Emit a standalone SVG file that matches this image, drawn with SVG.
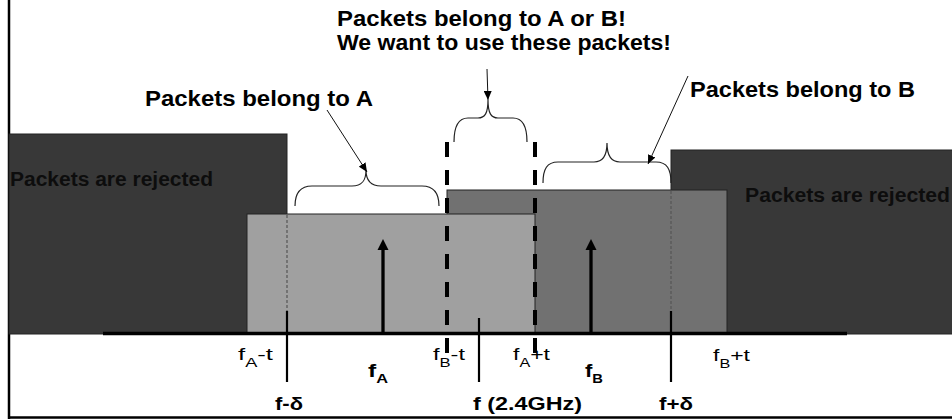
<svg xmlns="http://www.w3.org/2000/svg" width="952" height="419" viewBox="0 0 952 419">
  <style>
    .band { stroke: #222; stroke-width: 1; }
    .dark { fill: #383838; }
    .bandA { fill: #a0a0a0; }
    .bandB { fill: #717171; }
    .hidden-edge { stroke: #555; stroke-width: 1.2; stroke-dasharray: 3 2; fill: none; }
    .threshold { stroke: #000; stroke-width: 4; stroke-dasharray: 15 13; fill: none; }
    .tick { stroke: #000; stroke-width: 2.2; }
    .brace { fill: none; stroke: #222; stroke-width: 1.2; }
    .pointer { fill: none; stroke: #111; stroke-width: 1; marker-end: url(#head); }
    .title { font-family: "Liberation Sans", Arial, sans-serif; font-weight: bold; font-size: 22px; fill: #000; }
    .reject { font-family: "Liberation Sans", Arial, sans-serif; font-weight: bold; font-size: 20px; fill: #0d0d0d; }
    .lbl { font-family: "Liberation Sans", Arial, sans-serif; font-size: 17px; fill: #000; }
    .lblb { font-family: "Liberation Sans", Arial, sans-serif; font-weight: bold; font-size: 18px; fill: #000; }
    .sub { font-size: 12px; }
  </style>
  <defs>
    <marker id="head" markerUnits="userSpaceOnUse" markerWidth="9" markerHeight="8" refX="9" refY="4" orient="auto">
      <path d="M0,0 L9,4 L0,8 z" fill="#000"/>
    </marker>
  </defs>

  <rect width="952" height="419" fill="#fff"/>

  <!-- frame -->
  <g id="frame" stroke="#000" stroke-width="2.5">
    <line x1="9" y1="0" x2="9" y2="419"/>
    <line x1="8" y1="417.5" x2="952" y2="417.5"/>
  </g>

  <!-- rejection zones and channel bands -->
  <g id="reject-left">
    <rect class="band dark" x="9" y="134" width="278" height="200"/>
  </g>
  <g id="reject-right">
    <rect class="band dark" x="671" y="150" width="282" height="184"/>
  </g>
  <g id="band-B">
    <rect class="band bandB" x="447" y="190" width="280" height="144"/>
  </g>
  <g id="band-A">
    <rect class="band bandA" x="247" y="214" width="288" height="120"/>
  </g>

  <!-- hidden edges of the rejection zones -->
  <g id="hidden-edges">
    <line class="hidden-edge" x1="287" y1="215" x2="287" y2="311"/>
    <line class="hidden-edge" x1="671" y1="191" x2="671" y2="311"/>
  </g>

  <!-- channel centre carriers -->
  <g id="carrier-A">
    <line x1="383" y1="334" x2="383" y2="248" stroke="#000" stroke-width="3.3"/>
    <polygon points="383,239 377.5,250 388.5,250" fill="#000"/>
  </g>
  <g id="carrier-B">
    <line x1="591" y1="334" x2="591" y2="248" stroke="#000" stroke-width="3.3"/>
    <polygon points="591,239 585.5,250 596.5,250" fill="#000"/>
  </g>

  <!-- thresholds fB-t and fA+t -->
  <g id="thresholds">
    <line class="threshold" x1="447" y1="142" x2="447" y2="353"/>
    <line class="threshold" x1="535" y1="142" x2="535" y2="353"/>
  </g>

  <!-- frequency axis and ticks -->
  <g id="axis">
    <line x1="103" y1="333.5" x2="847" y2="333.5" stroke="#000" stroke-width="3.5"/>
    <line class="tick" x1="287" y1="311" x2="287" y2="382"/>
    <line class="tick" x1="479" y1="318" x2="479" y2="382"/>
    <line class="tick" x1="671" y1="311" x2="671" y2="382"/>
  </g>

  <!-- braces over the packet ranges -->
  <g id="braces">
    <path class="brace" d="M295,206 C295,193 300,186 312,186 L352,186 C362,186 366,181 366,170 C366,181 371,186 381,186 L422,186 C434,186 439,193 439,206"/>
    <path class="brace" d="M454,142 C454,126 458,118 468,118 L478,118 C485,118 488,113 488,100 C488,113 491,118 498,118 L513,118 C523,118 527,126 527,142"/>
    <path class="brace" d="M543,183 C543,169 547,162 558,162 L594,162 C603,162 607,156 607,143 C607,156 611,162 620,162 L656,162 C667,162 671,169 671,183"/>
  </g>

  <!-- pointers from the captions -->
  <g id="connectors">
    <line class="pointer" x1="327" y1="110" x2="367" y2="172"/>
    <line class="pointer" x1="487" y1="69" x2="488" y2="100"/>
    <line class="pointer" x1="688" y1="76" x2="648" y2="164"/>
  </g>

  <!-- captions -->
  <g id="caption-AB">
    <text class="title" x="337" y="26" textLength="289" lengthAdjust="spacingAndGlyphs">Packets belong to A or B!</text>
    <text class="title" x="337" y="50" textLength="334" lengthAdjust="spacingAndGlyphs">We want to use these packets!</text>
  </g>
  <g id="caption-A">
    <text class="title" x="145" y="106" textLength="228" lengthAdjust="spacingAndGlyphs">Packets belong to A</text>
  </g>
  <g id="caption-B">
    <text class="title" x="690" y="97" textLength="225" lengthAdjust="spacingAndGlyphs">Packets belong to B</text>
  </g>
  <g id="caption-reject">
    <text class="reject" x="10" y="186" textLength="203" lengthAdjust="spacingAndGlyphs">Packets are rejected</text>
    <text class="reject" x="745" y="201.5" textLength="205" lengthAdjust="spacingAndGlyphs">Packets are rejected</text>
  </g>

  <!-- axis labels -->
  <g id="axis-labels">
    <text class="lbl" x="238" y="360" textLength="35" lengthAdjust="spacingAndGlyphs">f<tspan class="sub" dy="7">A</tspan><tspan dy="-7">-t</tspan></text>
    <text class="lblb" x="368" y="377" textLength="20" lengthAdjust="spacingAndGlyphs">f<tspan class="sub" dy="6">A</tspan></text>
    <text class="lbl" x="433" y="360" textLength="32" lengthAdjust="spacingAndGlyphs">f<tspan class="sub" dy="7">B</tspan><tspan dy="-7">-t</tspan></text>
    <text class="lbl" x="513" y="360" textLength="37" lengthAdjust="spacingAndGlyphs">f<tspan class="sub" dy="7">A</tspan><tspan dy="-7">+t</tspan></text>
    <text class="lblb" x="585" y="377" textLength="18" lengthAdjust="spacingAndGlyphs">f<tspan class="sub" dy="6">B</tspan></text>
    <text class="lbl" x="713" y="361" textLength="37" lengthAdjust="spacingAndGlyphs">f<tspan class="sub" dy="7">B</tspan><tspan dy="-7">+t</tspan></text>
    <text class="lblb" x="275" y="410" textLength="28" lengthAdjust="spacingAndGlyphs">f-δ</text>
    <text class="lblb" x="473" y="410" textLength="109" lengthAdjust="spacingAndGlyphs">f (2.4GHz)</text>
    <text class="lblb" x="659" y="410" textLength="34" lengthAdjust="spacingAndGlyphs">f+δ</text>
  </g>
</svg>
